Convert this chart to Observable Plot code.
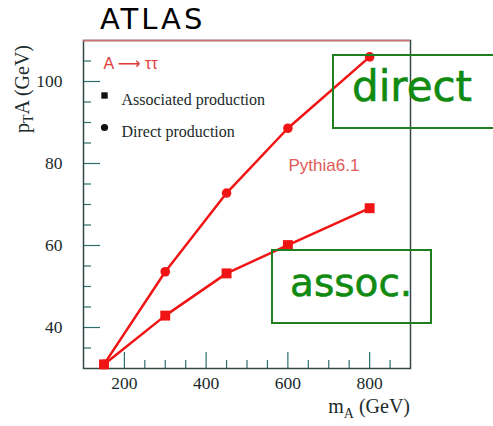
<!DOCTYPE html>
<html>
<head>
<meta charset="utf-8">
<script src="https://cdn.jsdelivr.net/npm/d3@7"></script>
<script src="https://cdn.jsdelivr.net/npm/@observablehq/plot@0.6"></script>
<style>
  html, body { margin: 0; padding: 0; background: #fff; }
  #wrap { position: relative; width: 493px; height: 426px; overflow: hidden; }
  .ov { position: absolute; white-space: nowrap; }
  .title { left: 100px; top: 2px; font: 29px "DejaVu Sans", sans-serif; letter-spacing: 3px; color: #000; }
  .ylab { left: 22px; top: 89px; transform: translate(-50%, -50%) rotate(-90deg);
          font: 20px "Liberation Serif", serif; color: #1b2a2a; }
  .xlab { right: 83px; top: 395px; font: 20px "Liberation Serif", serif; color: #1b2a2a; }
  sub { font-size: 0.7em; vertical-align: -0.35em; line-height: 0; }
  .box { position: absolute; border: 2.5px solid #1f7f1f; box-sizing: border-box; }
  .note { position: absolute; font-family: "DejaVu Sans", sans-serif; color: #108a10;
          -webkit-text-stroke: 0.6px #108a10; }
</style>
</head>
<body>
<div id="wrap"></div>
<script>
// m_A (GeV) mass points
const masses = [150, 300, 450, 600, 800];
// mean pT of A (GeV) for the two production modes
const directPt = [31, 53.6, 72.8, 88.6, 106];
const assocPt = [31, 42.9, 53.2, 60.1, 69.1];

const xDomain = [100, 900];
const yDomain = [30, 110];
const xMajor = [200, 400, 600, 800];
const xMinor = [150, 250, 300, 350, 450, 500, 550, 650, 700, 750, 850];
const yMajor = [40, 60, 80, 100];
const yMinor = [35, 45, 50, 55, 65, 70, 75, 85, 90, 95, 105];

const direct = masses.map((m, i) => ({m, pt: directPt[i]}));
const assoc = masses.map((m, i) => ({m, pt: assocPt[i]}));

const W = 493, H = 426;
const mL = 83, mR = 83, mT = 40, mB = 58;
const fw = W - mL - mR, fh = H - mT - mB;

const red = "#f01414";
const tickCol = "#2e6e6e";
const frameCol = "#34484a";
const labelCol = "#1b2a2a";
const serif = "Liberation Serif, serif";
const sans = "Liberation Sans, DejaVu Sans, sans-serif";

const chart = Plot.plot({
  width: W, height: H,
  marginLeft: mL, marginRight: mR, marginTop: mT, marginBottom: mB,
  x: {domain: xDomain, axis: null},
  y: {domain: yDomain, axis: null},
  style: {background: "white"},
  marks: [
    // inward ticks along the bottom and left edges
    Plot.tickX(xMajor, {x: d => d, insetTop: fh - 16, stroke: tickCol, strokeWidth: 1.2}),
    Plot.tickX(xMinor, {x: d => d, insetTop: fh - 8, stroke: tickCol, strokeWidth: 1.2}),
    Plot.tickY(yMajor, {y: d => d, insetRight: fw - 17, stroke: tickCol, strokeWidth: 1.2}),
    Plot.tickY(yMinor, {y: d => d, insetRight: fw - 8, stroke: tickCol, strokeWidth: 1.2}),
    Plot.frame({stroke: frameCol, strokeWidth: 1.5}),
    Plot.ruleY([yDomain[1]], {stroke: "#d07070", strokeWidth: 1.5}),
    // tick labels
    Plot.text(xMajor, {x: d => d, frameAnchor: "bottom", dy: 20, text: d => String(d),
      fontSize: 17.5, fontFamily: serif, fill: labelCol}),
    Plot.text(yMajor, {y: d => d, frameAnchor: "left", dx: -21, textAnchor: "end", text: d => String(d),
      fontSize: 17.5, fontFamily: serif, fill: labelCol}),
    // curves
    Plot.line(direct, {x: "m", y: "pt", stroke: red, strokeWidth: 2.5}),
    Plot.line(assoc, {x: "m", y: "pt", stroke: red, strokeWidth: 2.5}),
    Plot.dot(direct, {x: "m", y: "pt", r: 4.8, fill: red, symbol: "circle"}),
    Plot.dot(assoc, {x: "m", y: "pt", r: 5.6, fill: red, symbol: "square"}),
    // in-frame legend
    Plot.text(["A \u27f6 \u03c4\u03c4"], {frameAnchor: "top-left", dx: 20, dy: 17, textAnchor: "start",
      fill: "#e03a3a", fontSize: 16, fontFamily: sans}),
    Plot.dot([0], {frameAnchor: "top-left", dx: 21, dy: 55, symbol: "square", r: 3.6, fill: "#111"}),
    Plot.text(["Associated production"], {frameAnchor: "top-left", dx: 38, dy: 53, textAnchor: "start",
      fill: labelCol, fontSize: 16, fontFamily: serif}),
    Plot.dot([0], {frameAnchor: "top-left", dx: 21, dy: 87, symbol: "circle", r: 3.6, fill: "#111"}),
    Plot.text(["Direct production"], {frameAnchor: "top-left", dx: 38, dy: 85, textAnchor: "start",
      fill: labelCol, fontSize: 16, fontFamily: serif}),
    Plot.text(["Pythia6.1"], {frameAnchor: "top-left", dx: 205, dy: 118, textAnchor: "start",
      fill: "#e05a5a", fontSize: 17, fontFamily: sans})
  ]
});

const wrap = document.getElementById("wrap");
wrap.appendChild(chart);
wrap.insertAdjacentHTML("beforeend", `
  <div class="ov title">ATLAS</div>
  <div class="ov ylab">p<sub>T</sub>A (GeV)</div>
  <div class="ov xlab">m<sub>A</sub> (GeV)</div>
  <div class="box" style="left:332px;top:54px;width:170px;height:75px"></div>
  <div class="note" style="left:352px;top:62px;font-size:42px">direct</div>
  <div class="box" style="left:271px;top:249px;width:161px;height:75px"></div>
  <div class="note" style="left:290px;top:260px;font-size:39px">assoc.</div>
`);
</script>
</body>
</html>
